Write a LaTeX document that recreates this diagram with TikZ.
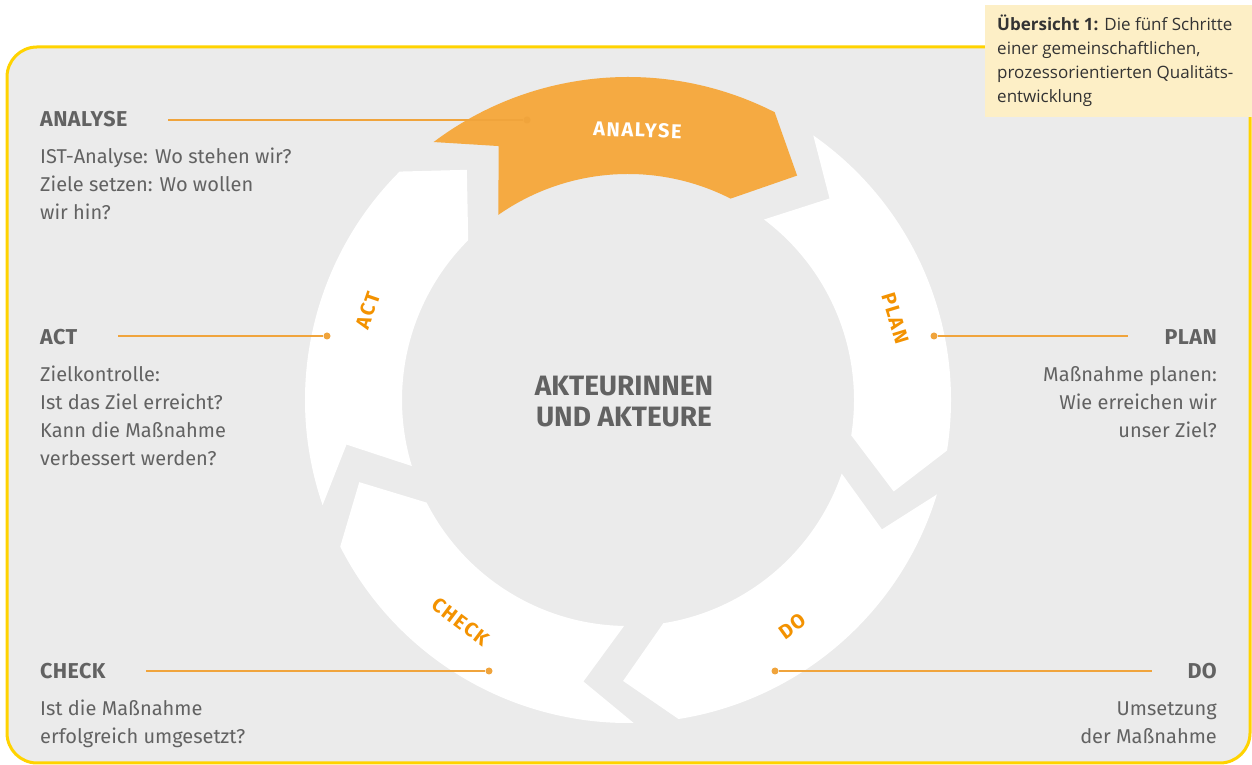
\documentclass[tikz,border=0pt]{standalone}
\usepackage{fontspec}
\setmainfont{Fira Sans}
\newfontfamily\titlefont{Open Sans}

\definecolor{bggray}{HTML}{EBEBEB}
\definecolor{frameyellow}{HTML}{FFD300}
\definecolor{titlefill}{HTML}{FDEFC6}
\definecolor{titlegray}{HTML}{333333}
\definecolor{arrowfill}{HTML}{F5AA42}
\definecolor{labelorange}{HTML}{F39200}
\definecolor{lineorange}{HTML}{F0A43C}
\definecolor{textgray}{HTML}{626262}

\begin{document}
\begin{tikzpicture}[x=1pt, y=1pt,
        heading/.style={font=\fontsize{21.5}{28}\selectfont\bfseries\addfontfeature{LetterSpace=2}, text=textgray, inner sep=0pt},
        body/.style={font=\fontsize{20}{28}\selectfont, text=textgray, inner sep=0pt},
        arrowlabel/.style={font=\fontsize{20}{20}\selectfont\bfseries\addfontfeature{LetterSpace=8}, text=labelorange, inner sep=0pt},
        leaderdot/.style={circle, fill=lineorange, inner sep=0pt, minimum size=7pt},
        leader/.style={lineorange, line width=2pt}]
    \useasboundingbox (0,0) rectangle (1252,765);

    % frame and title box
    \draw[frameyellow, line width=3pt, fill=bggray, rounded corners=30pt] (7,2) rectangle (1250,718);
    \fill[titlefill] (985,648) rectangle (1252,760);
    % base of a multi-line node = its last line
    \node[anchor=base west, align=left, inner sep=0pt, text=titlegray,
          font=\titlefont\fontsize{17}{24}\selectfont] (title) at (997,662)
        {\textbf{Übersicht 1:} Die fünf Schritte\\einer gemeinschaftlichen,\\prozessorientierten Qualitäts-\\entwicklung};

    % ring of five arrows
    \begin{scope}[shift={(628,365)}]
        \foreach \s/\col in {126/arrowfill, 54/white, -18/white, -90/white, 198/white} {
            \fill[\col] (\s+1:323) arc[start angle=\s+1, end angle=\s-63, radius=323]
                -- (\s-73:281) -- (\s-63:226)
                arc[start angle=\s-63, end angle=\s-1, radius=226]
                -- (\s-9:285) -- cycle;
        }

        \node[arrowlabel, text=white, rotate=-2] (lblAnalyse) at (88:270) {ANALYSE};
        \node[arrowlabel, rotate=-73] (lblPlan) at (17:280) {PLAN};
        \node[arrowlabel, rotate=36] (lblDo) at (-54:280) {DO};
        \node[arrowlabel, rotate=-37] (lblCheck) at (-127:278) {CHECK};
        \node[arrowlabel, rotate=71] (lblAct) at (161:275) {ACT};
    \end{scope}

    \node[font=\fontsize{28}{31}\selectfont\bfseries, text=textgray, align=center, inner sep=0pt, anchor=base] (center) at (624,338) {AKTEURINNEN\\UND AKTEURE};

    % ANALYSE
    \node[heading, anchor=base west] (hAnalyse) at (40,638) {ANALYSE};
    \node[body, anchor=base west, align=left] (tAnalyse) at (40,545) {IST-Analyse: Wo stehen wir?\\Ziele setzen: Wo wollen\\wir hin?};
    \node[leaderdot] (dAnalyse) at (527,645) {};
    \coordinate (eAnalyse) at (168,645);
    \draw[leader] (eAnalyse) -- (dAnalyse);

    % ACT
    \node[heading, anchor=base west] (hAct) at (40,420) {ACT};
    \node[body, anchor=base west, align=left] (tAct) at (40,299) {Zielkontrolle:\\Ist das Ziel erreicht?\\Kann die Maßnahme\\verbessert werden?};
    \node[leaderdot] (dAct) at (327,429) {};
    \coordinate (eAct) at (118,429);
    \draw[leader] (eAct) -- (dAct);

    % PLAN
    \node[heading, anchor=base east] (hPlan) at (1217,420) {PLAN};
    \node[body, anchor=base east, align=right] (tPlan) at (1217,327) {Maßnahme planen:\\Wie erreichen wir\\unser Ziel?};
    \node[leaderdot] (dPlan) at (934,429) {};
    \coordinate (ePlan) at (1128,429);
    \draw[leader] (dPlan) -- (ePlan);

    % CHECK
    \node[heading, anchor=base west] (hCheck) at (40,86) {CHECK};
    \node[body, anchor=base west, align=left] (tCheck) at (40,21) {Ist die Maßnahme\\erfolgreich umgesetzt?};
    \node[leaderdot] (dCheck) at (489,94) {};
    \coordinate (eCheck) at (146,94);
    \draw[leader] (eCheck) -- (dCheck);

    % DO
    \node[heading, anchor=base east] (hDo) at (1217,86) {DO};
    \node[body, anchor=base east, align=right] (tDo) at (1217,21) {Umsetzung\\der Maßnahme};
    \node[leaderdot] (dDo) at (775,94) {};
    \coordinate (eDo) at (1152,94);
    \draw[leader] (dDo) -- (eDo);
\end{tikzpicture}
\end{document}
